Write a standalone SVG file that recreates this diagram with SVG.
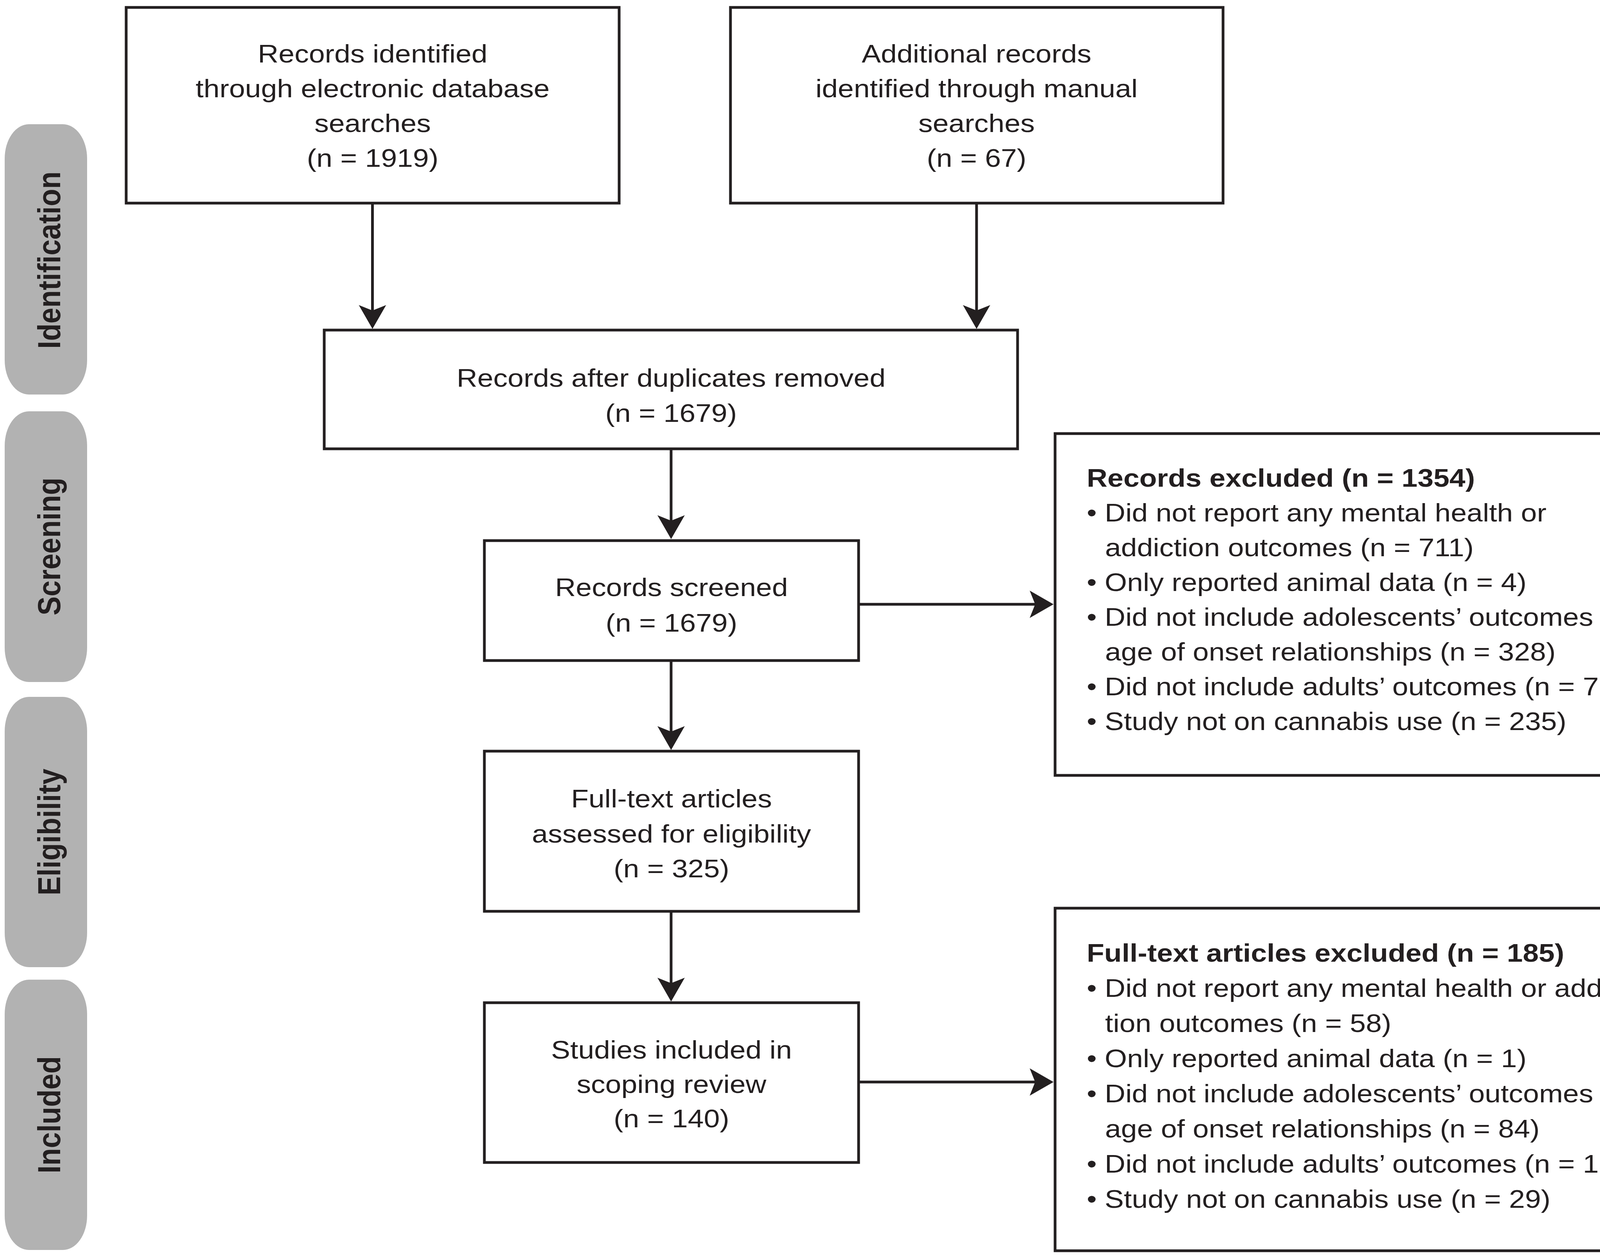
<svg xmlns="http://www.w3.org/2000/svg" width="4317" height="3218" viewBox="0 0 4317 3218">
<style>
.box{fill:#fff;stroke:#231f20;stroke-width:7}
.lab{fill:#b2b2b2}
.lt{font-family:"Liberation Sans",Arial,Helvetica,sans-serif;font-weight:bold;font-size:73px;fill:#231f20;text-anchor:middle}
.t{font-family:"Liberation Sans",Arial,Helvetica,sans-serif;font-size:65px;fill:#231f20}
.c{text-anchor:middle}
.b{font-weight:bold}
.con{stroke:#231f20;stroke-width:7;fill:none;marker-end:url(#ah)}
</style>
<defs>
<marker id="ah" markerUnits="userSpaceOnUse" orient="auto" refX="0" refY="0" markerWidth="80" markerHeight="80" overflow="visible">
<path d="M47,0 L-14,-35 L0,0 L-14,35 Z" fill="#231f20"/>
</marker>
</defs>
<rect width="4317" height="3218" fill="#fff"/>
<g id="stage-identification"><rect class="lab" x="12" y="318" width="211" height="692" rx="62" ry="88"/><text class="lt" transform="translate(154,666) scale(1.13,1) rotate(-90)">Identification</text></g>
<g id="stage-screening"><rect class="lab" x="12" y="1053" width="211" height="693" rx="62" ry="88"/><text class="lt" transform="translate(154,1399) scale(1.13,1) rotate(-90)">Screening</text></g>
<g id="stage-eligibility"><rect class="lab" x="12" y="1784" width="211" height="692" rx="62" ry="88"/><text class="lt" transform="translate(154,2130) scale(1.13,1) rotate(-90)">Eligibility</text></g>
<g id="stage-included"><rect class="lab" x="12" y="2508" width="211" height="692" rx="62" ry="88"/><text class="lt" transform="translate(154,2854) scale(1.13,1) rotate(-90)">Included</text></g>
<g id="connectors">
<line class="con" x1="953.5" y1="520" x2="953.5" y2="795"/>
<line class="con" x1="2500" y1="520" x2="2500" y2="795"/>
<line class="con" x1="1718" y1="1149" x2="1718" y2="1333"/>
<line class="con" x1="1718" y1="1691" x2="1718" y2="1873"/>
<line class="con" x1="1718" y1="2333" x2="1718" y2="2517"/>
<line class="con" x1="2198" y1="1547" x2="2650" y2="1547"/>
<line class="con" x1="2198" y1="2770" x2="2650" y2="2770"/>
</g>
<g id="node-database">
<rect class="box" x="323" y="19" width="1262" height="501"/>
<text class="t c" transform="matrix(1.13 0 0 1 954 160)">Records identified</text>
<text class="t c" transform="matrix(1.13 0 0 1 954 249)">through electronic database</text>
<text class="t c" transform="matrix(1.13 0 0 1 954 338)">searches</text>
<text class="t c" transform="matrix(1.13 0 0 1 954 427)">(n = 1919)</text>
</g>
<g id="node-manual">
<rect class="box" x="1870" y="19" width="1261" height="501"/>
<text class="t c" transform="matrix(1.13 0 0 1 2500 160)">Additional records</text>
<text class="t c" transform="matrix(1.13 0 0 1 2500 249)">identified through manual</text>
<text class="t c" transform="matrix(1.13 0 0 1 2500 338)">searches</text>
<text class="t c" transform="matrix(1.13 0 0 1 2500 427)">(n = 67)</text>
</g>
<g id="node-duplicates">
<rect class="box" x="830" y="845" width="1775" height="304"/>
<text class="t c" transform="matrix(1.13 0 0 1 1718 990)">Records after duplicates removed</text>
<text class="t c" transform="matrix(1.13 0 0 1 1718 1080)">(n = 1679)</text>
</g>
<g id="node-screened">
<rect class="box" x="1240" y="1384" width="958" height="307"/>
<text class="t c" transform="matrix(1.13 0 0 1 1719 1526)">Records screened</text>
<text class="t c" transform="matrix(1.13 0 0 1 1719 1617)">(n = 1679)</text>
</g>
<g id="node-fulltext">
<rect class="box" x="1240" y="1923" width="958" height="410"/>
<text class="t c" transform="matrix(1.13 0 0 1 1719 2067)">Full-text articles</text>
<text class="t c" transform="matrix(1.13 0 0 1 1719 2157)">assessed for eligibility</text>
<text class="t c" transform="matrix(1.13 0 0 1 1719 2246)">(n = 325)</text>
</g>
<g id="node-included">
<rect class="box" x="1240" y="2567" width="958" height="409"/>
<text class="t c" transform="matrix(1.13 0 0 1 1719 2710)">Studies included in</text>
<text class="t c" transform="matrix(1.13 0 0 1 1719 2798)">scoping review</text>
<text class="t c" transform="matrix(1.13 0 0 1 1719 2886)">(n = 140)</text>
</g>
<g id="node-records-excluded">
<rect class="box" x="2701" y="1110" width="1601" height="875"/>
<text class="t b" transform="matrix(1.13 0 0 1 2782 1246)">Records excluded (n = 1354)</text>
<text class="t" transform="matrix(1.13 0 0 1 2782 1335)">• Did not report any mental health or</text>
<text class="t" transform="matrix(1.13 0 0 1 2829 1424)">addiction outcomes (n = 711)</text>
<text class="t" transform="matrix(1.13 0 0 1 2782 1513)">• Only reported animal data (n = 4)</text>
<text class="t" transform="matrix(1.13 0 0 1 2782 1602)">• Did not include adolescents’ outcomes nor</text>
<text class="t" transform="matrix(1.13 0 0 1 2829 1691)">age of onset relationships (n = 328)</text>
<text class="t" transform="matrix(1.13 0 0 1 2782 1780)">• Did not include adults’ outcomes (n = 76)</text>
<text class="t" transform="matrix(1.13 0 0 1 2782 1869)">• Study not on cannabis use (n = 235)</text>
</g>
<g id="node-fulltext-excluded">
<rect class="box" x="2701" y="2325" width="1600" height="877"/>
<text class="t b" transform="matrix(1.13 0 0 1 2782 2462)">Full-text articles excluded (n = 185)</text>
<text class="t" transform="matrix(1.13 0 0 1 2782 2552)">• Did not report any mental health or addic-</text>
<text class="t" transform="matrix(1.13 0 0 1 2829 2642)">tion outcomes (n = 58)</text>
<text class="t" transform="matrix(1.13 0 0 1 2782 2732)">• Only reported animal data (n = 1)</text>
<text class="t" transform="matrix(1.13 0 0 1 2782 2822)">• Did not include adolescents’ outcomes nor</text>
<text class="t" transform="matrix(1.13 0 0 1 2829 2912)">age of onset relationships (n = 84)</text>
<text class="t" transform="matrix(1.13 0 0 1 2782 3002)">• Did not include adults’ outcomes (n = 13)</text>
<text class="t" transform="matrix(1.13 0 0 1 2782 3092)">• Study not on cannabis use (n = 29)</text>
</g>
</svg>
